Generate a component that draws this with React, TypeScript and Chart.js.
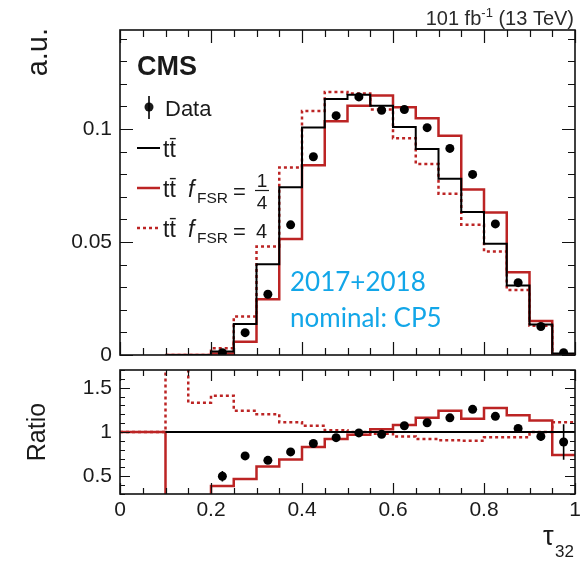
import React, { useEffect, useRef } from 'react';
import { Chart, registerables } from 'chart.js';

Chart.register(...registerables);

// ---- main panel: normalised τ32 distributions (bins of width 0.05) ----
const binLow = [0.1, 0.15, 0.2, 0.25, 0.3, 0.35, 0.4, 0.45, 0.5, 0.55, 0.6, 0.65, 0.7, 0.75, 0.8, 0.85, 0.9, 0.95];
const ttNominal = [0, 0, 0.0015, 0.0137, 0.0402, 0.0742, 0.1007, 0.1133, 0.1152, 0.1103, 0.1009, 0.0911, 0.078, 0.0633, 0.0492, 0.0307, 0.0135, 0.0007];
const ttFsrQuarter = [0, 0, 0.0007, 0.0059, 0.0247, 0.0513, 0.084, 0.1034, 0.1103, 0.1148, 0.1096, 0.1047, 0.097, 0.0732, 0.0631, 0.0366, 0.015, 0];
const ttFsrFour = [0, 0, 0.003, 0.017, 0.048, 0.083, 0.108, 0.1164, 0.1157, 0.1086, 0.0959, 0.0845, 0.0713, 0.0576, 0.0458, 0.0288, 0.0129, 0];
const dataCenters = [0.225, 0.275, 0.325, 0.375, 0.425, 0.475, 0.525, 0.575, 0.625, 0.675, 0.725, 0.775, 0.825, 0.875, 0.925, 0.975];
const dataValues = [0.001, 0.0099, 0.0269, 0.0576, 0.0877, 0.1059, 0.1142, 0.1083, 0.1086, 0.1006, 0.0914, 0.0799, 0.058, 0.032, 0.0126, 0.001];

// ---- ratio panel: prediction / nominal and data / nominal ----
const ratioBinLow = [0, 0.05, 0.1, 0.15, 0.2, 0.25, 0.3, 0.35, 0.4, 0.45, 0.5, 0.55, 0.6, 0.65, 0.7, 0.75, 0.8, 0.85, 0.9, 0.95];
const ratioFsrQuarter = [1, 1, 0, 0, 0.39, 0.47, 0.61, 0.69, 0.83, 0.92, 0.97, 1.03, 1.08, 1.16, 1.24, 1.15, 1.27, 1.19, 1.13, 0.74];
const ratioFsrFour = [1, 1, 3, 1.33, 1.41, 1.24, 1.2, 1.11, 1.07, 1.02, 1.0, 0.98, 0.95, 0.92, 0.906, 0.9, 0.94, 0.94, 1.0, 1.11];
const ratioNominalRange = [0.1, 1];
const ratioData = [0.5, 0.73, 0.68, 0.775, 0.87, 0.936, 0.99, 0.974, 1.07, 1.105, 1.16, 1.256, 1.177, 1.04, 0.95, 0.887];
const ratioDataErr = [0.06, 0.02, 0.015, 0.01, 0.01, 0.01, 0.01, 0.01, 0.01, 0.01, 0.01, 0.01, 0.012, 0.02, 0.05, 0.2];

// ---- axis ticks ----
const xTicks = [0, 0.2, 0.4, 0.6, 0.8, 1];
const mainYTicks = [0, 0.05, 0.1];
const ratioYTicks = [0.5, 1, 1.5];

const RED = 'rgb(188, 36, 36)';
const FONT = "'Liberation Sans', Arial, Helvetica, sans-serif";
const INK = '#1a1a1a';

type Pt = { x: number; y: number };

// step outline: value i spans [low_i, low_{i+1}); closes at the upper edge
function histPoints(lows: number[], vals: number[], upper: number, tail: number): Pt[] {
  const pts = lows.map((x, i) => ({ x, y: vals[i] }));
  pts.push({ x: upper, y: tail });
  return pts;
}

const fmt = (v: number) => String(+Number(v).toFixed(2));

function range(a: number, b: number, step: number) {
  const out: number[] = [];
  for (let v = a; v <= b + 1e-9; v += step) out.push(+v.toFixed(4));
  return out;
}

type TickCfg = {
  xMinor: number[]; xMajor: number[]; yMinor: number[]; yMajor: number[];
  xMaj: number; xMin: number; yMaj: number; yMin: number;
};

// ROOT-like frame with inward ticks on all four sides
function framePlugin(cfg: TickCfg) {
  return {
    id: 'frameTicks',
    afterDatasetsDraw(chart: any) {
      const { ctx, chartArea: a, scales } = chart;
      ctx.save();
      ctx.strokeStyle = '#111';
      ctx.lineWidth = 1.2;
      ctx.beginPath();
      const xt = (v: number, len: number) => {
        const p = Math.round(scales.x.getPixelForValue(v)) + 0.5;
        ctx.moveTo(p, a.bottom); ctx.lineTo(p, a.bottom - len);
        ctx.moveTo(p, a.top); ctx.lineTo(p, a.top + len);
      };
      const yt = (v: number, len: number) => {
        const p = Math.round(scales.y.getPixelForValue(v)) + 0.5;
        ctx.moveTo(a.left, p); ctx.lineTo(a.left + len, p);
        ctx.moveTo(a.right, p); ctx.lineTo(a.right - len, p);
      };
      cfg.xMinor.forEach((v) => xt(v, cfg.xMin));
      cfg.xMajor.forEach((v) => xt(v, cfg.xMaj));
      cfg.yMinor.forEach((v) => yt(v, cfg.yMin));
      cfg.yMajor.forEach((v) => yt(v, cfg.yMaj));
      ctx.stroke();
      ctx.lineWidth = 1.6;
      ctx.strokeRect(a.left, a.top, a.right - a.left, a.bottom - a.top);
      ctx.restore();
    },
  };
}

// vertical error bars for the data points of a panel
function errorBarPlugin(datasetIndex: number, errs: number[]) {
  return {
    id: 'errBars',
    afterDatasetsDraw(chart: any) {
      const { ctx, scales } = chart;
      const meta = chart.getDatasetMeta(datasetIndex);
      const ds = chart.data.datasets[datasetIndex].data as Pt[];
      ctx.save();
      ctx.strokeStyle = '#000';
      ctx.lineWidth = 1.6;
      ctx.beginPath();
      ds.forEach((d, i) => {
        const px = meta.data[i].x;
        const y1 = scales.y.getPixelForValue(d.y + errs[i]);
        const y2 = scales.y.getPixelForValue(d.y - errs[i]);
        ctx.moveTo(px, y1); ctx.lineTo(px, y2);
      });
      ctx.stroke();
      ctx.restore();
    },
  };
}

function drawTTbar(ctx: CanvasRenderingContext2D, x: number, base: number, size: number) {
  ctx.font = `${size}px ${FONT}`;
  ctx.fillText('tt', x, base);
  const wt = ctx.measureText('t').width;
  ctx.save();
  ctx.lineWidth = 1.4;
  ctx.strokeStyle = INK;
  ctx.beginPath();
  ctx.moveTo(x + wt + 0.5, base - size * 0.8);
  ctx.lineTo(x + 2 * wt, base - size * 0.8);
  ctx.stroke();
  ctx.restore();
  return x + ctx.measureText('tt').width;
}

function drawFsr(ctx: CanvasRenderingContext2D, base: number) {
  ctx.font = `italic 23px ${FONT}`;
  ctx.fillText('f', 188, base);
  ctx.font = `15.5px ${FONT}`;
  ctx.fillText('FSR', 197, base + 6);
  ctx.font = `22px ${FONT}`;
  ctx.fillText('=', 233, base + 2);
}

const mainTextPlugin = {
  id: 'mainText',
  afterDraw(chart: any) {
    const ctx: CanvasRenderingContext2D = chart.ctx;
    ctx.save();
    ctx.fillStyle = INK;
    ctx.textBaseline = 'alphabetic';
    ctx.textAlign = 'left';

    // luminosity / energy label
    const big = `20px ${FONT}`;
    const small = `13px ${FONT}`;
    ctx.font = big;
    const w1 = ctx.measureText('101 fb').width;
    const w3 = ctx.measureText(' (13 TeV)').width;
    ctx.font = small;
    const w2 = ctx.measureText('-1').width;
    let x = 574 - (w1 + w2 + w3);
    ctx.fillStyle = '#2a2a2a';
    ctx.font = big; ctx.fillText('101 fb', x, 25); x += w1;
    ctx.font = small; ctx.fillText('-1', x, 17); x += w2;
    ctx.font = big; ctx.fillText(' (13 TeV)', x, 25);

    // y-axis title
    ctx.fillStyle = INK;
    ctx.save();
    ctx.translate(47, 28);
    ctx.rotate(-Math.PI / 2);
    ctx.textAlign = 'right';
    ctx.font = `29px ${FONT}`;
    ctx.fillText('a.u.', 0, 0);
    ctx.restore();

    // CMS label
    ctx.font = `bold 27px ${FONT}`;
    ctx.fillText('CMS', 137, 75);

    // legend: data
    ctx.beginPath();
    ctx.arc(149, 107, 4.5, 0, Math.PI * 2);
    ctx.fill();
    ctx.lineWidth = 1.6;
    ctx.strokeStyle = '#000';
    ctx.beginPath();
    ctx.moveTo(149, 96); ctx.lineTo(149, 119);
    ctx.stroke();
    ctx.font = `22px ${FONT}`;
    ctx.fillText('Data', 165, 116);

    // legend: nominal tt
    ctx.lineWidth = 2;
    ctx.beginPath(); ctx.moveTo(137, 148); ctx.lineTo(160, 148); ctx.stroke();
    drawTTbar(ctx, 163, 157, 23);

    // legend: f_FSR = 1/4
    ctx.strokeStyle = RED;
    ctx.lineWidth = 2.5;
    ctx.beginPath(); ctx.moveTo(137, 188); ctx.lineTo(160, 188); ctx.stroke();
    drawTTbar(ctx, 163, 197, 23);
    drawFsr(ctx, 197);
    ctx.font = `19px ${FONT}`;
    ctx.textAlign = 'center';
    ctx.fillText('1', 262, 187);
    ctx.fillText('4', 262, 209);
    ctx.textAlign = 'left';
    ctx.strokeStyle = INK;
    ctx.lineWidth = 1.2;
    ctx.beginPath(); ctx.moveTo(255, 190.5); ctx.lineTo(269, 190.5); ctx.stroke();

    // legend: f_FSR = 4
    ctx.strokeStyle = RED;
    ctx.lineWidth = 2.5;
    ctx.setLineDash([3, 3]);
    ctx.beginPath(); ctx.moveTo(137, 228); ctx.lineTo(160, 228); ctx.stroke();
    ctx.setLineDash([]);
    drawTTbar(ctx, 163, 237, 23);
    drawFsr(ctx, 237);
    ctx.font = `20px ${FONT}`;
    ctx.fillText('4', 256, 238);

    // sample annotation
    ctx.fillStyle = '#12a6e8';
    ctx.font = `26px Lato, 'Open Sans', sans-serif`;
    ctx.fillText('2017+2018', 290, 291);
    ctx.fillText('nominal: CP5', 290, 327);
    ctx.restore();
  },
};

const ratioTextPlugin = {
  id: 'ratioText',
  afterDraw(chart: any) {
    const ctx: CanvasRenderingContext2D = chart.ctx;
    ctx.save();
    ctx.fillStyle = INK;
    ctx.textBaseline = 'alphabetic';
    ctx.save();
    ctx.translate(45, 432 - 363);
    ctx.rotate(-Math.PI / 2);
    ctx.textAlign = 'center';
    ctx.font = `25px ${FONT}`;
    ctx.fillText('Ratio', 0, 0);
    ctx.restore();
    ctx.textAlign = 'left';
    ctx.font = `27px ${FONT}`;
    ctx.fillText('τ', 543, 545 - 363);
    ctx.font = `17px ${FONT}`;
    ctx.fillText('32', 555, 557 - 363);
    ctx.restore();
  },
};

const tickFont = { family: FONT, size: 21 };

const lineStyle = (color: string, width: number, dash: number[] = []) => ({
  borderColor: color,
  borderWidth: width,
  borderDash: dash,
  pointRadius: 0,
  fill: false,
  stepped: true as const,
  tension: 0,
});

// fixed-size axis boxes so the plotting frames land where intended
const fixVertical = (w: number) => (s: any) => {
  s.width = w;
  s.paddingTop = 0;
  s.paddingBottom = 0;
};
const fixHorizontal = (h: number) => (s: any) => {
  s.height = h;
  s.paddingLeft = 0;
  s.paddingRight = 0;
};

export default function App() {
  const mainRef = useRef<HTMLCanvasElement>(null);
  const ratioRef = useRef<HTMLCanvasElement>(null);

  useEffect(() => {
    const common = {
      animation: false as const,
      responsive: false,
      maintainAspectRatio: false,
      devicePixelRatio: 1,
      events: [] as any[],
    };

    const main = new Chart(mainRef.current!, {
      type: 'line',
      data: {
        datasets: [
          {
            label: 'Data',
            data: dataCenters.map((x, i) => ({ x, y: dataValues[i] })),
            showLine: false,
            pointRadius: 4.5,
            pointBackgroundColor: '#000',
            pointBorderWidth: 0,
            borderColor: '#000',
          },
          { label: 'tt', data: histPoints(binLow, ttNominal, 1, 0), ...lineStyle('#000', 2) },
          { label: 'fFSR=1/4', data: histPoints(binLow, ttFsrQuarter, 1, 0), ...lineStyle(RED, 2.5) },
          { label: 'fFSR=4', data: histPoints(binLow, ttFsrFour, 1, 0), ...lineStyle(RED, 2.5, [3, 3]) },
        ],
      },
      options: {
        ...common,
        layout: { padding: { top: 30, right: 9, bottom: 8, left: 0 } },
        plugins: { legend: { display: false }, tooltip: { enabled: false } },
        scales: {
          x: { type: 'linear', min: 0, max: 1, display: false },
          y: {
            type: 'linear',
            min: 0,
            max: 0.1438,
            grid: { display: false, drawTicks: false },
            border: { display: false },
            afterBuildTicks: (s: any) => { s.ticks = mainYTicks.map((value) => ({ value })); },
            afterFit: fixVertical(120),
            ticks: { font: tickFont, color: INK, padding: 8, callback: (v: any) => fmt(v) },
          },
        },
      } as any,
      plugins: [
        framePlugin({
          xMinor: range(0, 1, 0.05), xMajor: xTicks,
          yMinor: range(0, 0.14, 0.01), yMajor: mainYTicks,
          xMaj: 13, xMin: 7, yMaj: 13, yMin: 7,
        }),
        mainTextPlugin,
      ],
    });

    const ratio = new Chart(ratioRef.current!, {
      type: 'line',
      data: {
        datasets: [
          {
            label: 'Data',
            data: dataCenters.map((x, i) => ({ x, y: ratioData[i] })),
            showLine: false,
            pointRadius: 4.5,
            pointBackgroundColor: '#000',
            pointBorderWidth: 0,
            borderColor: '#000',
          },
          { label: 'nominal', data: ratioNominalRange.map((x) => ({ x, y: 1 })), ...lineStyle('#000', 2) },
          { label: 'fFSR=1/4', data: histPoints(ratioBinLow, ratioFsrQuarter, 1, ratioFsrQuarter[19]), ...lineStyle(RED, 2.5) },
          { label: 'fFSR=4', data: histPoints(ratioBinLow, ratioFsrFour, 1, ratioFsrFour[19]), ...lineStyle(RED, 2.5, [3, 3]) },
        ],
      },
      options: {
        ...common,
        layout: { padding: { top: 7, right: 9, bottom: 0, left: 0 } },
        plugins: { legend: { display: false }, tooltip: { enabled: false } },
        scales: {
          x: {
            type: 'linear',
            min: 0,
            max: 1,
            grid: { display: false, drawTicks: false },
            border: { display: false },
            afterBuildTicks: (s: any) => { s.ticks = xTicks.map((value) => ({ value })); },
            afterFit: fixHorizontal(69),
            ticks: { font: tickFont, color: INK, padding: 4, maxRotation: 0, autoSkip: false, callback: (v: any) => fmt(v) },
          },
          y: {
            type: 'linear',
            min: 0.3,
            max: 1.7,
            grid: { display: false, drawTicks: false },
            border: { display: false },
            afterBuildTicks: (s: any) => { s.ticks = ratioYTicks.map((value) => ({ value })); },
            afterFit: fixVertical(120),
            ticks: { font: tickFont, color: INK, padding: 8, callback: (v: any) => fmt(v) },
          },
        },
      } as any,
      plugins: [
        framePlugin({
          xMinor: range(0, 1, 0.05), xMajor: xTicks,
          yMinor: range(0.3, 1.7, 0.1), yMajor: ratioYTicks,
          xMaj: 11, xMin: 6, yMaj: 10, yMin: 5,
        }),
        errorBarPlugin(0, ratioDataErr),
        ratioTextPlugin,
      ],
    });

    return () => {
      main.destroy();
      ratio.destroy();
    };
  }, []);

  return (
    <div style={{ position: 'absolute', left: 0, top: 0, width: 584, height: 563, background: '#fff' }}>
      <canvas ref={mainRef} width={584} height={363} style={{ position: 'absolute', left: 0, top: 0 }} />
      <canvas ref={ratioRef} width={584} height={200} style={{ position: 'absolute', left: 0, top: 363 }} />
    </div>
  );
}
